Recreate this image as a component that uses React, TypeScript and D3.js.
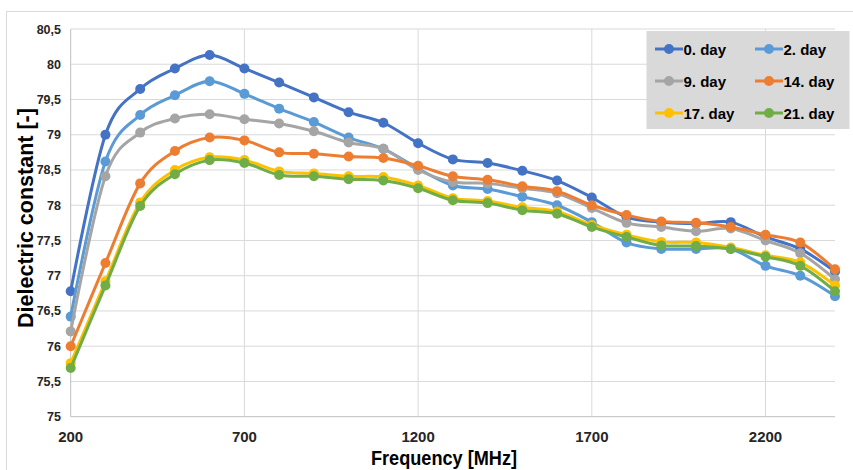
import * as d3 from "d3";
import React, { useEffect, useRef } from "react";

const frequencies = [200, 300, 400, 500, 600, 700, 800, 900, 1000, 1100, 1200, 1300, 1400, 1500, 1600, 1700, 1800, 1900, 2000, 2100, 2200, 2300, 2400];

const day0 = [76.78, 79.0, 79.65, 79.94, 80.13, 79.94, 79.74, 79.53, 79.32, 79.17, 78.88, 78.65, 78.6, 78.49, 78.35, 78.11, 77.83, 77.76, 77.74, 77.76, 77.55, 77.38, 77.06];
const day2 = [76.42, 78.62, 79.28, 79.56, 79.76, 79.58, 79.37, 79.18, 78.96, 78.8, 78.52, 78.28, 78.23, 78.12, 78.0, 77.76, 77.47, 77.38, 77.38, 77.38, 77.14, 77.0, 76.71];
const day9 = [76.21, 78.41, 79.03, 79.23, 79.29, 79.22, 79.16, 79.05, 78.89, 78.8, 78.5, 78.33, 78.31, 78.24, 78.17, 77.96, 77.75, 77.69, 77.63, 77.67, 77.5, 77.32, 76.95];
const day14 = [76.0, 77.18, 78.31, 78.77, 78.96, 78.92, 78.75, 78.73, 78.69, 78.67, 78.56, 78.41, 78.36, 78.27, 78.2, 78.0, 77.86, 77.77, 77.75, 77.69, 77.58, 77.47, 77.09];
const day17 = [75.76, 76.92, 78.04, 78.5, 78.68, 78.64, 78.48, 78.45, 78.41, 78.4, 78.28, 78.1, 78.06, 77.97, 77.91, 77.72, 77.58, 77.48, 77.47, 77.4, 77.29, 77.19, 76.86];
const day21 = [75.69, 76.86, 77.99, 78.44, 78.64, 78.6, 78.43, 78.41, 78.37, 78.35, 78.24, 78.07, 78.03, 77.93, 77.88, 77.69, 77.55, 77.43, 77.42, 77.38, 77.27, 77.14, 76.78];

const seriesNames = ["0. day", "2. day", "9. day", "14. day", "17. day", "21. day"];
const seriesValues = [day0, day2, day9, day14, day17, day21];
const seriesColors = ["#4472C4", "#5B9BD5", "#A5A5A5", "#ED7D31", "#FFC000", "#70AD47"];

const yTicks = [75, 75.5, 76, 76.5, 77, 77.5, 78, 78.5, 79, 79.5, 80, 80.5];
const xTicks = [200, 700, 1200, 1700, 2200];

const FONT = "'Liberation Sans', Arial, sans-serif";

const App = () => {
  const svgRef = useRef<SVGSVGElement>(null);

  useEffect(() => {
    const svg = d3.select(svgRef.current);
    svg.selectAll("*").remove();

    const width = 853;
    const height = 470;

    svg.append("rect").attr("width", width).attr("height", height).attr("fill", "#fff");
    svg.append("rect")
      .attr("x", 6.5).attr("y", 11.5)
      .attr("width", width).attr("height", height)
      .attr("fill", "none").attr("stroke", "#D9D9D9");

    const x = d3.scaleLinear().domain([200, 2400]).range([70.7, 835]);
    const y = d3.scaleLinear().domain([75, 80.5]).range([416.7, 29]);

    // grid
    svg.append("g")
      .selectAll("line")
      .data(yTicks.slice(1))
      .join("line")
      .attr("x1", x(200)).attr("x2", x(2400))
      .attr("y1", (d) => y(d)).attr("y2", (d) => y(d))
      .attr("stroke", "#D9D9D9").attr("stroke-width", 1);

    svg.append("g")
      .selectAll("line")
      .data(xTicks.slice(1))
      .join("line")
      .attr("x1", (d) => x(d)).attr("x2", (d) => x(d))
      .attr("y1", y(75)).attr("y2", y(80.5))
      .attr("stroke", "#D9D9D9").attr("stroke-width", 1);

    // axis lines
    svg.append("line")
      .attr("x1", x(200)).attr("x2", x(2400))
      .attr("y1", y(75)).attr("y2", y(75))
      .attr("stroke", "#BFBFBF");
    svg.append("line")
      .attr("x1", x(200)).attr("x2", x(200))
      .attr("y1", y(75)).attr("y2", y(80.5))
      .attr("stroke", "#BFBFBF");

    // tick labels
    svg.append("g")
      .selectAll("text")
      .data(yTicks)
      .join("text")
      .attr("x", 61)
      .attr("y", (d) => y(d) + 4.5)
      .attr("text-anchor", "end")
      .attr("font-family", FONT)
      .attr("font-weight", "bold")
      .attr("font-size", 12.5)
      .attr("fill", "#262626")
      .text((d) => d3.format("~")(d).replace(".", ","));

    svg.append("g")
      .selectAll("text")
      .data(xTicks)
      .join("text")
      .attr("x", (d) => x(d))
      .attr("y", 442)
      .attr("text-anchor", "middle")
      .attr("font-family", FONT)
      .attr("font-weight", "bold")
      .attr("font-size", 15)
      .attr("fill", "#262626")
      .text((d) => d);

    // axis titles
    svg.append("text")
      .attr("x", 444)
      .attr("y", 465)
      .attr("text-anchor", "middle")
      .attr("font-family", FONT)
      .attr("font-weight", "bold")
      .attr("font-size", 20)
      .attr("textLength", 146)
      .attr("lengthAdjust", "spacingAndGlyphs")
      .attr("fill", "#000")
      .text("Frequency [MHz]");

    svg.append("text")
      .attr("transform", "translate(33,218) rotate(-90)")
      .attr("text-anchor", "middle")
      .attr("font-family", FONT)
      .attr("font-weight", "bold")
      .attr("font-size", 21.5)
      .attr("fill", "#000")
      .text("Dielectric constant [-]");

    // series
    const line = d3.line<number>()
      .x((_, i) => x(frequencies[i]))
      .y((d) => y(d))
      .curve(d3.curveCardinal.tension(0));

    seriesValues.forEach((vals, si) => {
      const g = svg.append("g");
      g.append("path")
        .attr("d", line(vals))
        .attr("fill", "none")
        .attr("stroke", seriesColors[si])
        .attr("stroke-width", 3);
      g.selectAll("circle")
        .data(vals)
        .join("circle")
        .attr("cx", (_, i) => x(frequencies[i]))
        .attr("cy", (d) => y(d))
        .attr("r", 5)
        .attr("fill", seriesColors[si]);
    });

    // legend
    const legend = svg.append("g");
    legend.append("rect")
      .attr("x", 646.5).attr("y", 31)
      .attr("width", 203).attr("height", 98)
      .attr("fill", "#D9D9D9");
    seriesNames.forEach((name, i) => {
      const col = i % 2;
      const row = Math.floor(i / 2);
      const lx = 655 + col * 100;
      const ly = 49 + row * 32;
      legend.append("line")
        .attr("x1", lx).attr("x2", lx + 28)
        .attr("y1", ly).attr("y2", ly)
        .attr("stroke", seriesColors[i]).attr("stroke-width", 3);
      legend.append("circle")
        .attr("cx", lx + 14).attr("cy", ly).attr("r", 5)
        .attr("fill", seriesColors[i]);
      legend.append("text")
        .attr("x", lx + 28.5)
        .attr("y", ly + 6)
        .attr("font-family", FONT)
        .attr("font-weight", "bold")
        .attr("font-size", 15)
        .attr("fill", "#000")
        .text(name);
    });
  }, []);

  return (
    <svg
      ref={svgRef}
      width={853}
      height={470}
      style={{ position: "absolute", left: 0, top: 0 }}
    ></svg>
  );
};

export default App;
